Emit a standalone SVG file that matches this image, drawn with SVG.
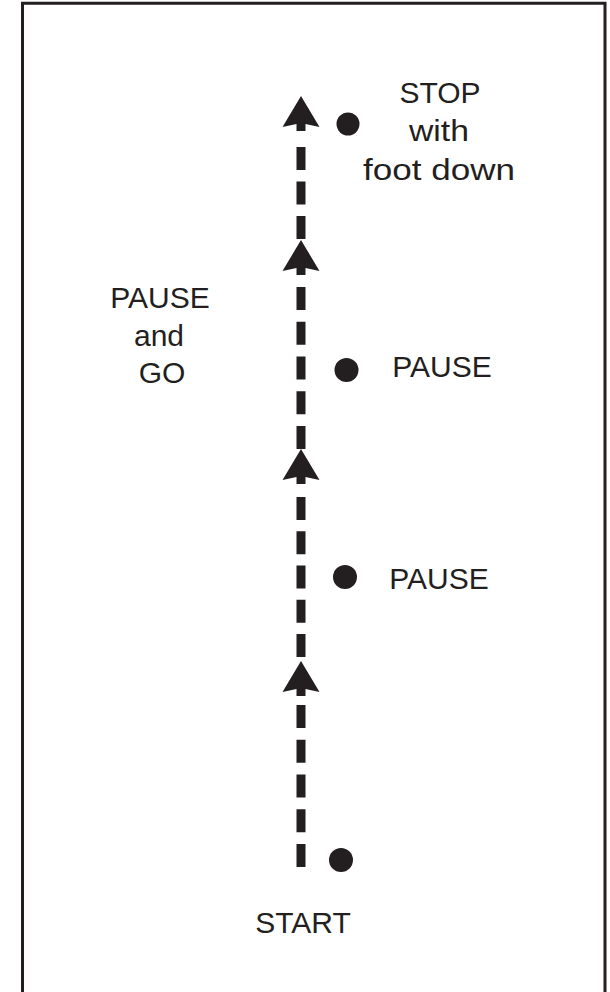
<svg xmlns="http://www.w3.org/2000/svg" width="610" height="992" viewBox="0 0 610 992">
  <style>
    .lbl { font-family: "Liberation Sans", Arial, sans-serif; font-size: 30px; fill: #231f20; text-anchor: middle; }
    .dash { stroke: #231f20; stroke-width: 9; fill: none; }
    .dot { fill: #231f20; }
    .head { fill: #231f20; }
  </style>
  <defs>
    <polygon id="arrowhead" class="head" points="0,0 18.5,31 4.5,28 4.5,35 -4.5,35 -4.5,28 -18.5,31"/>
  </defs>
  <rect width="610" height="992" fill="#ffffff"/>
  <path d="M22.5,992 V3.3 H605 V992" fill="none" stroke="#231f20" stroke-width="3"/>

  <g id="connectors">
    <line class="dash" x1="301" y1="867" x2="301" y2="705" stroke-dasharray="23 11.75"/>
    <line class="dash" x1="301" y1="657" x2="301" y2="497" stroke-dasharray="23 11.25"/>
    <line class="dash" x1="301" y1="449" x2="301" y2="287" stroke-dasharray="23 11.75"/>
    <line class="dash" x1="301" y1="239" x2="301" y2="147" stroke-dasharray="23 11.5"/>
    <use href="#arrowhead" x="301" y="661"/>
    <use href="#arrowhead" x="301" y="449"/>
    <use href="#arrowhead" x="301" y="240"/>
    <use href="#arrowhead" x="301" y="96"/>
  </g>

  <g id="start">
    <circle class="dot" cx="341" cy="860" r="12"/>
    <text class="lbl" x="303" y="933">START</text>
  </g>
  <g id="pause1">
    <circle class="dot" cx="345" cy="577" r="12"/>
    <text class="lbl" x="439" y="589">PAUSE</text>
  </g>
  <g id="pause2">
    <circle class="dot" cx="346.5" cy="370" r="12"/>
    <text class="lbl" x="442" y="377">PAUSE</text>
  </g>
  <g id="stop">
    <circle class="dot" cx="348" cy="124" r="11.5"/>
    <text class="lbl" x="440" y="103">STOP</text>
    <text class="lbl" x="439" y="141" textLength="60" lengthAdjust="spacingAndGlyphs">with</text>
    <text class="lbl" x="439" y="180" textLength="152" lengthAdjust="spacingAndGlyphs">foot down</text>
  </g>
  <g id="pause-and-go">
    <text class="lbl" x="160" y="308">PAUSE</text>
    <text class="lbl" x="159" y="346">and</text>
    <text class="lbl" x="162" y="383">GO</text>
  </g>
</svg>
